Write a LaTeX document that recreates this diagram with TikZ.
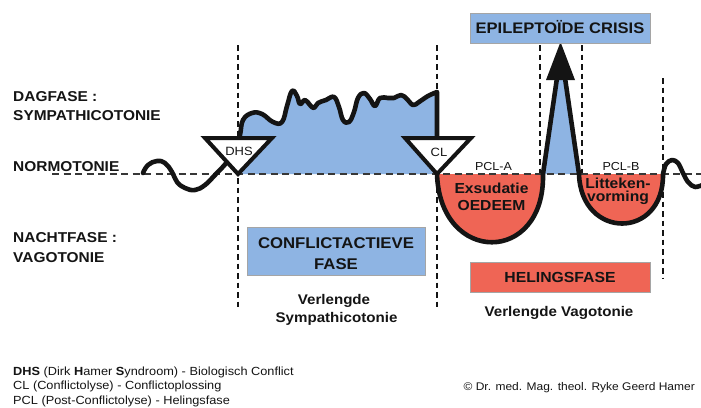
\documentclass[tikz,border=0pt]{standalone}
\usepackage{fontspec}
\setmainfont{Liberation Sans}[FakeStretch=1.08]
\definecolor{phaseblue}{RGB}{142,180,227}
\definecolor{phasered}{RGB}{239,101,85}
\definecolor{ink}{RGB}{20,20,20}
\definecolor{boxedge}{RGB}{165,165,165}
\newcommand\setfs[1]{\fontsize{#1}{#1}\selectfont}
\begin{document}
\begin{tikzpicture}[x=1pt,y=-1pt,
  curve/.style={line width=4.6pt, draw=ink, line join=round, line cap=round},
  vdash/.style={line width=2.8pt, draw=ink, dash pattern=on 5.5pt off 4pt},
  normline/.style={line width=1.5pt, draw=ink!85, dash pattern=on 7pt off 4.5pt},
  tri/.style={fill=white, draw=ink, line width=4pt, line join=miter},
  lbl/.style={inner sep=0pt, text=ink},
  side/.style={lbl, anchor=base west, font=\setfs{14.3}\bfseries},
  phasebox/.style={draw=boxedge, line width=1pt, inner sep=0pt, text=ink, align=center},
  inbowl/.style={lbl, anchor=base, font=\setfs{14.5}\bfseries},
  legend/.style={lbl, anchor=base west, font=\setfs{11.8}}
]
\useasboundingbox[fill=white] (0,0) rectangle (701,407);

% vertical phase separators
\draw[vdash] (238,45) -- (238,310);
\draw[vdash] (437,45) -- (437,310);
\draw[vdash] (540,45) -- (540,174);
\draw[vdash] (582,45) -- (582,174);
\draw[vdash] (663,78) -- (663,278);

% filled areas under the tone curve
\fill[phaseblue] (238,174) -- (240,150) -- plot[smooth, tension=0.7] coordinates {
  (240,135) (243,120) (252,113) (262,114) (273,122) (282,122) (287,106) (292,91)
  (297,96) (300,104) (305,100) (310,105) (314,108) (318,103) (326,100) (334,97)
  (339,107) (343,120) (349,122) (354,112) (358,98) (364,93) (370,99) (375,106)
  (380,98) (388,98) (394,98) (401,95) (407,99) (413,105) (419,102) (428,96)
  (437,92)} -- (437,174) -- cycle;
\fill[phasered] (437,174) .. controls (440,265) and (545,265) .. (543,174) -- cycle;
\fill[phasered] (579,174) .. controls (581,240) and (664,240) .. (663,174) -- cycle;
\fill[phaseblue] (544,174) -- (557,78) -- (565,78) -- (578,174) -- cycle;

% normotonia line
\draw[normline] (52,174) -- (701,174);

% tone curve: conflict-active phase, PCL-A, crisis spike
\draw[curve] plot[smooth, tension=0.7] coordinates {
  (143,173) (148,165) (157,161) (165,163) (172,172) (177,182) (185,188) (195,190)
  (205,185) (215,175) (227,162) (236,148) (240,135) (243,120) (252,113) (262,114)
  (273,122) (282,122) (287,106) (292,91) (297,96) (300,104) (305,100) (310,105)
  (314,108) (318,103) (326,100) (334,97) (339,107) (343,120) (349,122) (354,112)
  (358,98) (364,93) (370,99) (375,106) (380,98) (388,98) (394,98) (401,95)
  (407,99) (413,105) (419,102) (428,96) (437,92)}
  -- (437,174) .. controls (440,265) and (545,265) .. (543,174) -- (557,78);
% tone curve: crisis spike down, PCL-B, return to normotonia
\draw[curve] (565,78) -- (579,174) .. controls (581,240) and (664,240) .. (663,174)
  -- plot[smooth, tension=0.55] coordinates {
  (663,174) (666,164) (672,160) (678,163) (683,173) (688,182) (695,187) (705,184)};

% arrow head of the epileptoid crisis
\fill[ink] (546,80) -- (560.5,42) -- (575,80) -- cycle;

% DHS and CL markers
\draw[tri] (205,138) -- (272,138) -- (238,174) -- cycle;
\draw[tri] (405,138) -- (471,138) -- (437,174) -- cycle;
\node[lbl, anchor=base, font=\setfs{12}] (dhs) at (239,155) {DHS};
\node[lbl, anchor=base, font=\setfs{12}] (cl) at (439,156) {CL};

% side labels
\node[side] (dag1) at (13,101) {DAGFASE :};
\node[side] (dag2) at (13,120) {SYMPATHICOTONIE};
\node[side] (normo) at (13,171) {NORMOTONIE};
\node[side] (nacht1) at (13,242) {NACHTFASE :};
\node[side] (nacht2) at (13,262) {VAGOTONIE};

% healing phase labels
\node[lbl, anchor=base, font=\setfs{11.6}] (pcla) at (493.5,170) {PCL-A};
\node[lbl, anchor=base, font=\setfs{11.6}] (pclb) at (621,170) {PCL-B};
\node[inbowl] (exs) at (491.5,193.3) {Exsudatie};
\node[inbowl] (oed) at (491.5,210) {OEDEEM};
\node[inbowl] (lit) at (618,188.3) {Litteken-};
\node[inbowl] (vorm) at (618,201.7) {vorming};

% phase boxes
\node[phasebox, fill=phaseblue, minimum width=180pt, minimum height=30pt,
      text height=10.9pt, text depth=0pt, font=\setfs{15.3}\bfseries]
  (crisis) at (560,28) {EPILEPTOÏDE CRISIS};
\draw[phasebox, fill=phaseblue] (247,227) rectangle (425,275);
\node[lbl, anchor=base, font=\setfs{15.5}\bfseries] (active1) at (336,248.5) {CONFLICTACTIEVE};
\node[lbl, anchor=base, font=\setfs{15.5}\bfseries] (active2) at (336,269.5) {FASE};
\node[phasebox, fill=phasered, minimum width=180pt, minimum height=30pt,
      text height=10.5pt, text depth=0pt, font=\setfs{14.6}\bfseries]
  (heal) at (560,277) {HELINGSFASE};

% phase durations
\node[lbl, anchor=base, font=\setfs{14}\bfseries] (vl1) at (334,304.3) {Verlengde};
\node[lbl, anchor=base, font=\setfs{14}\bfseries] (vl2) at (336.5,322.7) {Sympathicotonie};
\node[lbl, anchor=base, font=\setfs{14}\bfseries] (vl3) at (559,316) {Verlengde Vagotonie};

% legend
\node[legend] (leg1) at (13,375) {\textbf{DHS} (Dirk \textbf{H}amer \textbf{S}yndroom) - Biologisch Conflict};
\node[legend] (leg2) at (13,389.5) {CL (Conflictolyse) - Conflictoplossing};
\node[legend] (leg3) at (13,404) {PCL (Post-Conflictolyse) - Helingsfase};
\node[lbl, anchor=base east, font=\setfs{11.1}] (copy) at (695,390.7) {© Dr. med. Mag. theol. Ryke Geerd Hamer};
\end{tikzpicture}
\end{document}
